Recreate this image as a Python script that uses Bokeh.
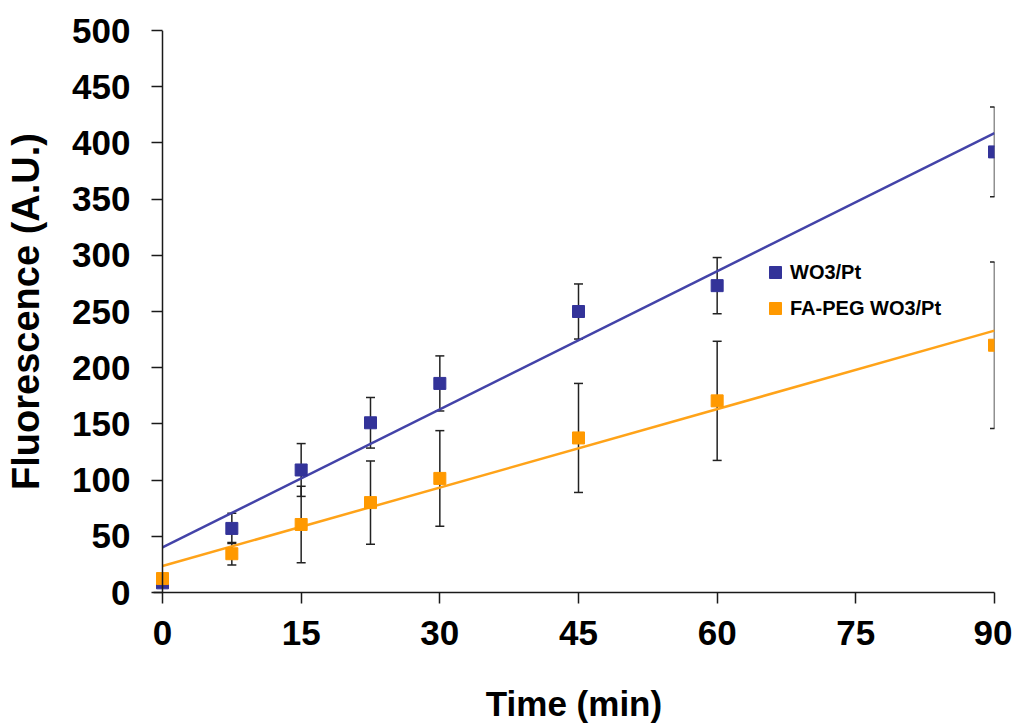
import numpy as np
from bokeh.plotting import figure
from bokeh.models import (Range1d, ColumnDataSource, Whisker, TeeHead, Legend,
                          LegendItem, FixedTicker, Span)
from bokeh.embed import file_html
from bokeh.resources import INLINE

# ---- data ----
time_min = [0, 7.5, 15, 22.5, 30, 45, 60, 90]
wo3_pt = [8.6, 57, 109, 151, 186, 250, 273, 392]
wo3_pt_err = [3, 13.5, 23.5, 22.5, 24.5, 24.5, 25, 40]
fa_peg_wo3_pt = [12.4, 34.5, 60.5, 80, 101.5, 137.5, 170.5, 220]
fa_peg_wo3_pt_err = [3, 10, 34, 37, 42.5, 48.5, 53, 74]
series_names = ["WO3/Pt", "FA-PEG WO3/Pt"]
x_ticks = [0, 15, 30, 45, 60, 75, 90]
y_ticks = [0, 50, 100, 150, 200, 250, 300, 350, 400, 450, 500]

BLUE = "#333399"
BLUE_LINE = "#4343A8"
ORANGE = "#FF9900"
ORANGE_LINE = "#FFA319"
AXIS = "#1a1a1a"
FONT = "Liberation Sans"

# small pad left of x=0 so the first markers are not clipped (9 px)
X_PAD = 9 / (832 / 90)

p = figure(width=1012, height=725, x_range=Range1d(-X_PAD, 90), y_range=Range1d(0, 500),
           output_backend="svg", toolbar_location=None,
           min_border_left=153, min_border_right=18, min_border_top=30, min_border_bottom=132)
p.outline_line_color = None
p.xgrid.grid_line_color = None
p.ygrid.grid_line_color = None
p.background_fill_color = "white"
p.border_fill_color = "white"

p.xaxis.ticker = FixedTicker(ticks=x_ticks)
p.yaxis.ticker = FixedTicker(ticks=y_ticks)
for ax in (p.xaxis[0], p.yaxis[0]):
    ax.axis_line_color = AXIS
    ax.axis_line_width = 1.5
    ax.major_tick_line_color = AXIS
    ax.major_tick_line_width = 1.5
    ax.minor_tick_line_color = None
    ax.major_label_text_font = FONT
    ax.major_label_text_font_style = "bold"
    ax.major_label_text_font_size = "35px"
    ax.major_label_text_color = "black"
    ax.axis_label_text_font = FONT
    ax.axis_label_text_font_style = "bold"
    ax.axis_label_text_color = "black"
p.xaxis.major_tick_in = 0
p.xaxis.major_tick_out = 11
# y axis sits at frame edge (x = -pad); its ticks reach in to x = 0
p.yaxis.axis_line_color = None
p.yaxis.major_tick_in = 9
p.yaxis.major_tick_out = 2
p.add_layout(Span(location=0, dimension="height", line_color=AXIS, line_width=1.5))

p.xaxis.major_label_standoff = 17
p.yaxis.major_label_standoff = 21
p.xaxis.axis_label = "Time (min)"
p.yaxis.axis_label = "Fluorescence (A.U.)"
p.xaxis.axis_label_text_font_size = "35px"
p.yaxis.axis_label_text_font_size = "38px"
p.xaxis.axis_label_standoff = 36
p.yaxis.axis_label_standoff = 22

# error bars
def add_errors(vals, errs):
    src = ColumnDataSource(dict(x=time_min,
                                upper=[v + e for v, e in zip(vals, errs)],
                                lower=[v - e for v, e in zip(vals, errs)]))
    w = Whisker(base="x", upper="upper", lower="lower", source=src, dimension="height",
                line_color="#222222", line_width=1.5,
                upper_head=TeeHead(size=9, line_color="#222222", line_width=1.5),
                lower_head=TeeHead(size=9, line_color="#222222", line_width=1.5))
    p.add_layout(w)

add_errors(wo3_pt, wo3_pt_err)
add_errors(fa_peg_wo3_pt, fa_peg_wo3_pt_err)

# linear trend lines fitted to the data
xs = [min(time_min), max(time_min)]
for vals, col in ((wo3_pt, BLUE_LINE), (fa_peg_wo3_pt, ORANGE_LINE)):
    m, b = np.polyfit(time_min, vals, 1)
    p.line(xs, [m * x + b for x in xs], line_color=col, line_width=2.5)

r_blue = p.scatter(time_min, wo3_pt, marker="square", size=12,
                   fill_color=BLUE, line_color=BLUE)
r_orange = p.scatter(time_min, fa_peg_wo3_pt, marker="square", size=12,
                     fill_color=ORANGE, line_color=ORANGE)

legend = Legend(items=[LegendItem(label=series_names[0], renderers=[r_blue]),
                       LegendItem(label=series_names[1], renderers=[r_orange])],
                location=(607, 269), glyph_width=30, glyph_height=30, label_height=30,
                spacing=6, padding=0, margin=0, label_standoff=0,
                label_text_font=FONT, label_text_font_style="bold",
                label_text_font_size="20px", label_text_color="black",
                background_fill_alpha=0, border_line_color=None)
p.add_layout(legend)

open("out.html", "w").write(file_html(p, INLINE))
